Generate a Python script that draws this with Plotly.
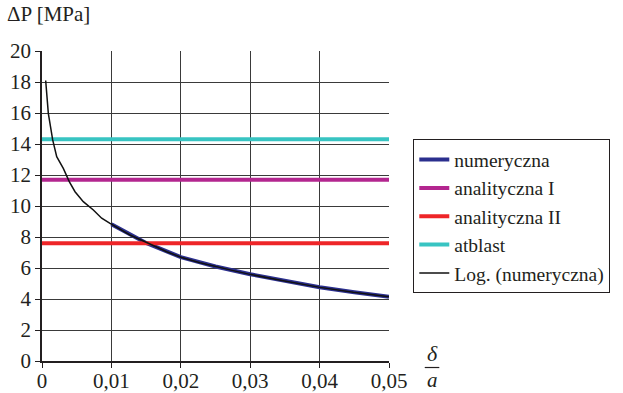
import plotly.graph_objects as go

# ---- data ----
num_x = [0.010, 0.015, 0.020, 0.025, 0.030, 0.035, 0.040, 0.045, 0.050]
num_y = [8.82, 7.62, 6.70, 6.10, 5.60, 5.17, 4.76, 4.44, 4.15]

log_x = [0.00053, 0.00091, 0.00154, 0.00212, 0.00307, 0.00393, 0.00476, 0.00595,
         0.0074, 0.0086, 0.0098, 0.01268, 0.01556, 0.01797, 0.02013, 0.02277,
         0.02757, 0.02997, 0.03477, 0.04006, 0.04486, 0.0500]
log_y = [18.1, 15.98, 14.26, 13.18, 12.43, 11.57, 10.92, 10.28,
         9.74, 9.21, 8.88, 8.13, 7.55, 7.05, 6.68, 6.34,
         5.83, 5.59, 5.18, 4.75, 4.43, 4.15]

const_x = [0.0, 0.05]
anal1 = 11.7
anal2 = 7.6
atblast = 14.3

x_ticks = [0, 0.01, 0.02, 0.03, 0.04, 0.05]
x_tick_labels = ["0", "0,01", "0,02", "0,03", "0,04", "0,05"]
y_ticks = list(range(0, 21, 2))

FONT = "Liberation Serif, DejaVu Serif, serif"
FS = 21

fig = go.Figure()
fig.add_trace(go.Scatter(x=num_x, y=num_y, mode="lines", name="numeryczna",
                         line=dict(color="#2b2f8e", width=4)))
fig.add_trace(go.Scatter(x=const_x, y=[anal1] * 2, mode="lines", name="analityczna I",
                         line=dict(color="#b3268f", width=4)))
fig.add_trace(go.Scatter(x=const_x, y=[anal2] * 2, mode="lines", name="analityczna II",
                         line=dict(color="#ee2528", width=4)))
fig.add_trace(go.Scatter(x=const_x, y=[atblast] * 2, mode="lines", name="atblast",
                         line=dict(color="#38c4c2", width=4)))
fig.add_trace(go.Scatter(x=log_x, y=log_y, mode="lines", name="Log. (numeryczna)",
                         line=dict(color="#111111", width=1.5)))

fig.update_layout(
    width=623, height=393,
    margin=dict(l=42, r=234, t=51, b=32, autoexpand=False),
    paper_bgcolor="white", plot_bgcolor="white",
    font=dict(family=FONT, size=FS, color="#231f20"),
    showlegend=True,
    legend=dict(x=1.07, y=0.715, xanchor="left", yanchor="top",
                bordercolor="#231f20", borderwidth=1, bgcolor="white",
                font=dict(family=FONT, size=19.5), tracegroupgap=0),
    xaxis=dict(range=[0, 0.05], tickvals=x_ticks, ticktext=x_tick_labels,
               showgrid=True, gridcolor="#3a3a3a", gridwidth=1,
               showline=True, linecolor="#231f20", linewidth=1.5,
               ticks="outside", ticklen=5, tickcolor="#231f20",
               ticklabelstandoff=-5,
               zeroline=False, automargin=False, tickfont=dict(size=FS)),
    yaxis=dict(range=[0, 20], tickvals=y_ticks,
               showgrid=True, gridcolor="#3a3a3a", gridwidth=1,
               showline=True, linecolor="#231f20", linewidth=1.5,
               ticks="outside", ticklen=5, tickcolor="#231f20",
               zeroline=False, automargin=False, tickfont=dict(size=FS)),
)

fig.add_annotation(text="ΔP [MPa]", xref="paper", yref="paper",
                   x=-0.107, y=1.075, xanchor="left", yanchor="bottom",
                   showarrow=False, font=dict(family=FONT, size=FS))
fig.add_annotation(text="<i>δ</i>", xref="paper", yref="paper",
                   x=1.124, y=-0.019, xanchor="center", yanchor="bottom",
                   showarrow=False, borderpad=0, font=dict(family=FONT, size=22))
fig.add_annotation(text="<i>a</i>", xref="paper", yref="paper",
                   x=1.124, y=-0.018, xanchor="center", yanchor="top",
                   showarrow=False, borderpad=0, font=dict(family=FONT, size=21))
fig.add_shape(type="line", xref="paper", yref="paper",
              x0=1.103, x1=1.145, y0=-0.021, y1=-0.021,
              line=dict(color="#231f20", width=1.2))

fig.write_html("out.html", config={"displayModeBar": False},
               post_script="document.body.style.margin='0';")
